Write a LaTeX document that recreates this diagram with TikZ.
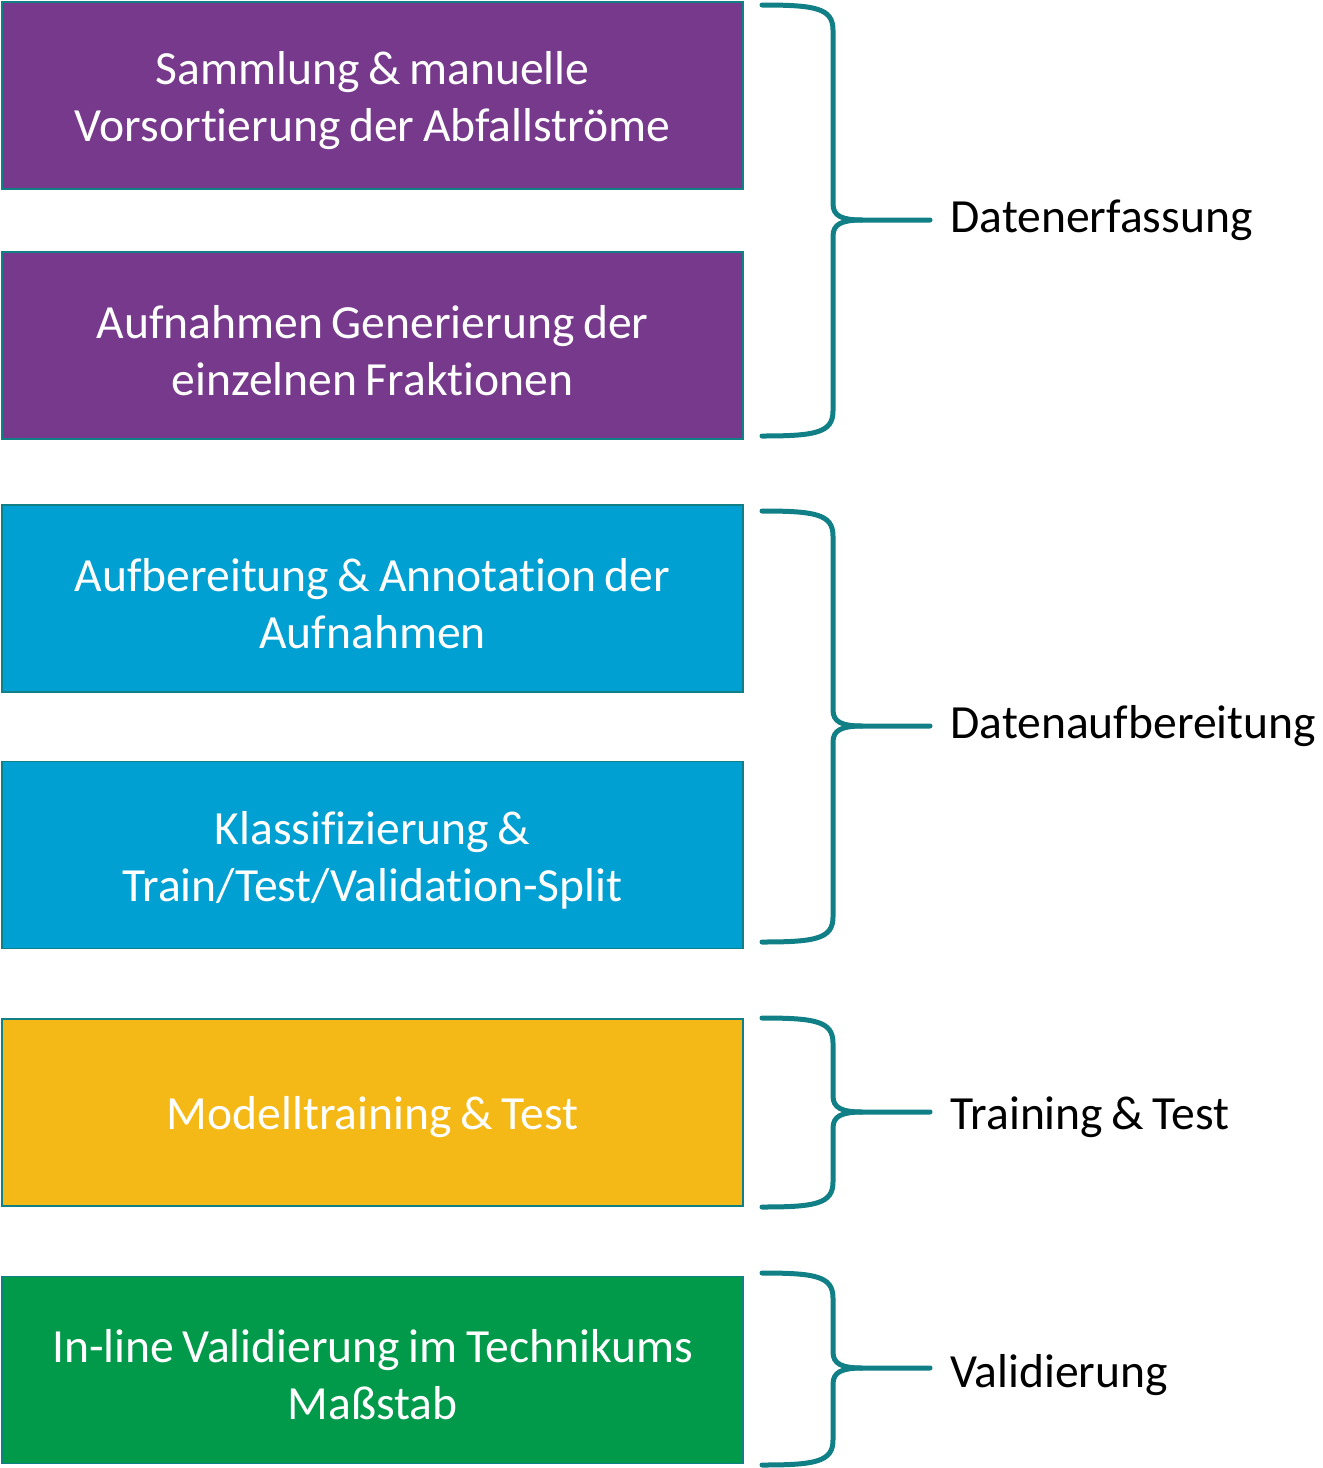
\documentclass[tikz,border=0pt]{standalone}
\usepackage{fontspec}
\setmainfont{Carlito}[Ligatures=CommonOff,WordSpace=0.8]
\definecolor{edge}{RGB}{16,128,134}
\definecolor{lila}{RGB}{118,57,139}
\definecolor{himmel}{RGB}{0,160,210}
\definecolor{gold}{RGB}{244,185,22}
\definecolor{wiese}{RGB}{0,154,74}
\tikzset{stagebox/.style={draw=edge,line width=.8pt,minimum width=370.5pt,minimum height=93.5pt,inner sep=0pt},
boxtext/.style={text=white,align=center,inner sep=0pt,yshift=-2.5pt,font=\fontsize{23.8}{28.5}\selectfont},
phase/.style={anchor=west,inner xsep=10pt,inner ysep=0pt,font=\fontsize{23.8}{28.5}\selectfont},
bracket/.style={draw=edge,line width=2.5pt,line cap=round}}
\begin{document}
\begin{tikzpicture}[x=.5pt,y=-.5pt]
\useasboundingbox (0,0) rectangle (1323,1468);
% Arbeitsschritte
\node[stagebox,fill=lila,label={[boxtext]center:Sammlung \& manuelle\\Vorsortierung der Abfallströme}] (samm) at (372.5,95.5){};
\node[stagebox,fill=lila,label={[boxtext]center:Aufnahmen Generierung der\\einzelnen Fraktionen}] (aufn) at (372.5,345.5){};
\node[stagebox,fill=himmel,label={[boxtext]center:Aufbereitung \& Annotation der\\Aufnahmen}] (anno) at (372.5,598.5){};
\node[stagebox,fill=himmel,label={[boxtext]center:Klassifizierung \&\\Train/Test/Validation-Split}] (klas) at (372.5,855){};
\node[stagebox,fill=gold,label={[boxtext]center:Modelltraining \& Test}] (mode) at (372.5,1112.5){};
\node[stagebox,fill=wiese,label={[boxtext]center:In-line Validierung im Technikums\\Maßstab}] (vali) at (372.5,1370){};
% Phasen mit Klammern
\foreach \t/\m/\b/\y/\n/\l in {5/220/436/220/erf/Datenerfassung,511/726/942/726/aufb/Datenaufbereitung,1018/1112/1207/1117/trai/Training \& Test,1273/1368/1465/1375/vald/Validierung}{
\node[phase] (\n) at (930,\y){\l};
\draw[bracket] (762,\t) .. controls (815,\t) and (833,\t+3) .. (833,\t+25) -- (833,\m-16) .. controls (833,\m-4) and (842,\m) .. (862,\m) -- (\n.west|-862,\m);
\draw[bracket] (762,\b) .. controls (815,\b) and (833,\b-3) .. (833,\b-25) -- (833,\m+16) .. controls (833,\m+4) and (842,\m) .. (862,\m);}
\end{tikzpicture}
\end{document}
